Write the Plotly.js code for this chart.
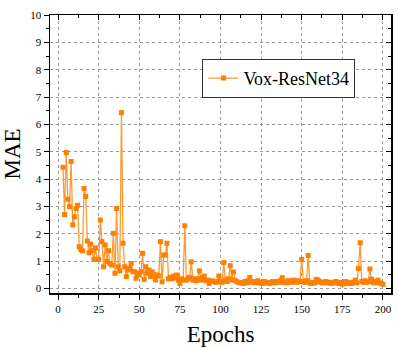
<!DOCTYPE html>
<html>
<head>
<meta charset="utf-8">
<script src="https://cdn.plot.ly/plotly-3.0.1.min.js"></script>
<style>html,body{margin:0;padding:0;background:#fff;}#chart{width:398px;height:348px;}</style>
</head>
<body>
<div id="chart"></div>
<script>
const startEpoch = 3;
const mae = [
  4.43, 2.70, 4.97, 3.26, 2.99, 4.64, 2.32, 2.62, 2.92, 3.04,
  1.52, 1.42, 1.37, 3.65, 3.36, 1.73, 1.30, 1.62, 1.38, 1.06,
  1.48, 1.06, 1.06, 2.50, 1.71, 0.79, 1.59, 0.98, 1.38, 0.91,
  0.85, 2.01, 0.55, 2.92, 0.79, 0.64, 6.43, 1.65, 0.79, 0.43,
  0.67, 0.73, 0.91, 0.61, 0.61, 0.37, 0.55, 0.49, 0.61, 1.28,
  0.33, 0.79, 0.55, 0.67, 0.43, 0.60, 0.49, 0.31, 0.49, 0.45,
  1.71, 0.24, 1.22, 1.22, 1.65, 0.35, 0.40, 0.35, 0.45, 0.38,
  0.49, 0.30, 0.18, 0.35, 0.30, 2.29, 0.30, 0.35, 0.40, 0.97,
  0.30, 0.35, 0.28, 0.35, 0.64, 0.30, 0.40, 0.45, 0.28, 0.30,
  0.18, 0.25, 0.28, 0.25, 0.22, 0.25, 0.45, 0.25, 0.22, 0.94,
  0.30, 0.25, 0.35, 0.83, 0.30, 0.60, 0.30, 0.25, 0.22, 0.20,
  0.22, 0.18, 0.25, 0.20, 0.28, 0.40, 0.22, 0.25, 0.20, 0.22,
  0.28, 0.20, 0.22, 0.18, 0.25, 0.22, 0.20, 0.18, 0.22, 0.25,
  0.22, 0.20, 0.25, 0.22, 0.28, 0.39, 0.22, 0.25, 0.20, 0.28,
  0.25, 0.22, 0.30, 0.25, 0.22, 0.28, 0.25, 1.06, 0.25, 0.22,
  0.28, 1.20, 0.20, 0.18, 0.22, 0.20, 0.33, 0.30, 0.25, 0.22,
  0.20, 0.22, 0.25, 0.20, 0.22, 0.18, 0.20, 0.22, 0.25, 0.20,
  0.18, 0.22, 0.15, 0.20, 0.25, 0.18, 0.22, 0.20, 0.18, 0.22,
  0.30, 0.20, 0.73, 1.67, 0.25, 0.22, 0.28, 0.22, 0.25, 0.71,
  0.33, 0.22, 0.20, 0.25, 0.30, 0.20, 0.18, 0.15
];
const epochs = mae.map((_, i) => startEpoch + i);
const seriesName = 'Vox-ResNet34';
const xTickVals = [0, 25, 50, 75, 100, 125, 150, 175, 200];
const yTickVals = [0, 1, 2, 3, 4, 5, 6, 7, 8, 9, 10];
const xTitle = 'Epochs';
const yTitle = 'MAE';

const serif = '"Liberation Serif", "Times New Roman", serif';
const xr = [-5, 205];
const yr = [-0.17, 10];

const traces = [
  {
    x: epochs, y: mae, name: seriesName, type: 'scatter', mode: 'lines+markers',
    line: {color: '#FF9A33', width: 1.3},
    marker: {symbol: 'square', size: 5, color: '#FF7F00', line: {width: 0}}
  },
  {x: [], y: [], xaxis: 'x2', yaxis: 'y2', showlegend: false, hoverinfo: 'skip', type: 'scatter'}
];

const common = {
  showline: true, linecolor: '#000', linewidth: 1.5, zeroline: false,
  tickfont: {family: serif, size: 11, color: '#000'}, tickcolor: '#000', tickwidth: 1
};

const layout = {
  width: 398, height: 348,
  margin: {l: 49.5, r: 6.5, t: 15, b: 55},
  paper_bgcolor: '#fff', plot_bgcolor: '#fff',
  showlegend: true,
  legend: {
    x: 0.447, y: 0.842, xanchor: 'left', yanchor: 'top',
    bgcolor: '#fff', bordercolor: '#333', borderwidth: 1,
    font: {family: serif, size: 18, color: '#000'},
    tracegroupgap: 0
  },
  xaxis: Object.assign({}, common, {
    range: xr, tickmode: 'array', tickvals: xTickVals, ticktext: xTickVals.map(String),
    ticks: 'outside', ticklen: 5,
    minor: {dtick: 12.5, tick0: 0, ticks: 'outside', ticklen: 3, tickcolor: '#000', showgrid: false},
    showgrid: true, gridcolor: '#9a9a9a', griddash: 'dot', gridwidth: 1,
    title: {text: xTitle, font: {family: serif, size: 23, color: '#000'}, standoff: 12}
  }),
  yaxis: Object.assign({}, common, {
    range: yr, tickmode: 'array', tickvals: yTickVals, ticktext: yTickVals.map(String),
    ticks: 'outside', ticklen: 5,
    minor: {dtick: 0.5, tick0: 0, ticks: 'outside', ticklen: 3, tickcolor: '#000', showgrid: false},
    showgrid: true, gridcolor: '#9a9a9a', griddash: 'dot', gridwidth: 1,
    title: {text: yTitle, font: {family: serif, size: 23, color: '#000'}, standoff: 10}
  }),
  xaxis2: Object.assign({}, common, {
    overlaying: 'x', side: 'top', range: xr, tickmode: 'array', tickvals: xTickVals,
    showticklabels: false, ticks: 'inside', ticklen: 5, showgrid: false,
    minor: {dtick: 12.5, tick0: 0, ticks: 'inside', ticklen: 3, tickcolor: '#000', showgrid: false}
  }),
  yaxis2: Object.assign({}, common, {
    overlaying: 'y', side: 'right', range: yr, tickmode: 'array', tickvals: yTickVals,
    showticklabels: false, ticks: 'inside', ticklen: 5, showgrid: false,
    minor: {dtick: 0.5, tick0: 0, ticks: 'inside', ticklen: 3, tickcolor: '#000', showgrid: false}
  })
};

Plotly.newPlot('chart', traces, layout, {displayModeBar: false, staticPlot: true});
</script>
</body>
</html>
